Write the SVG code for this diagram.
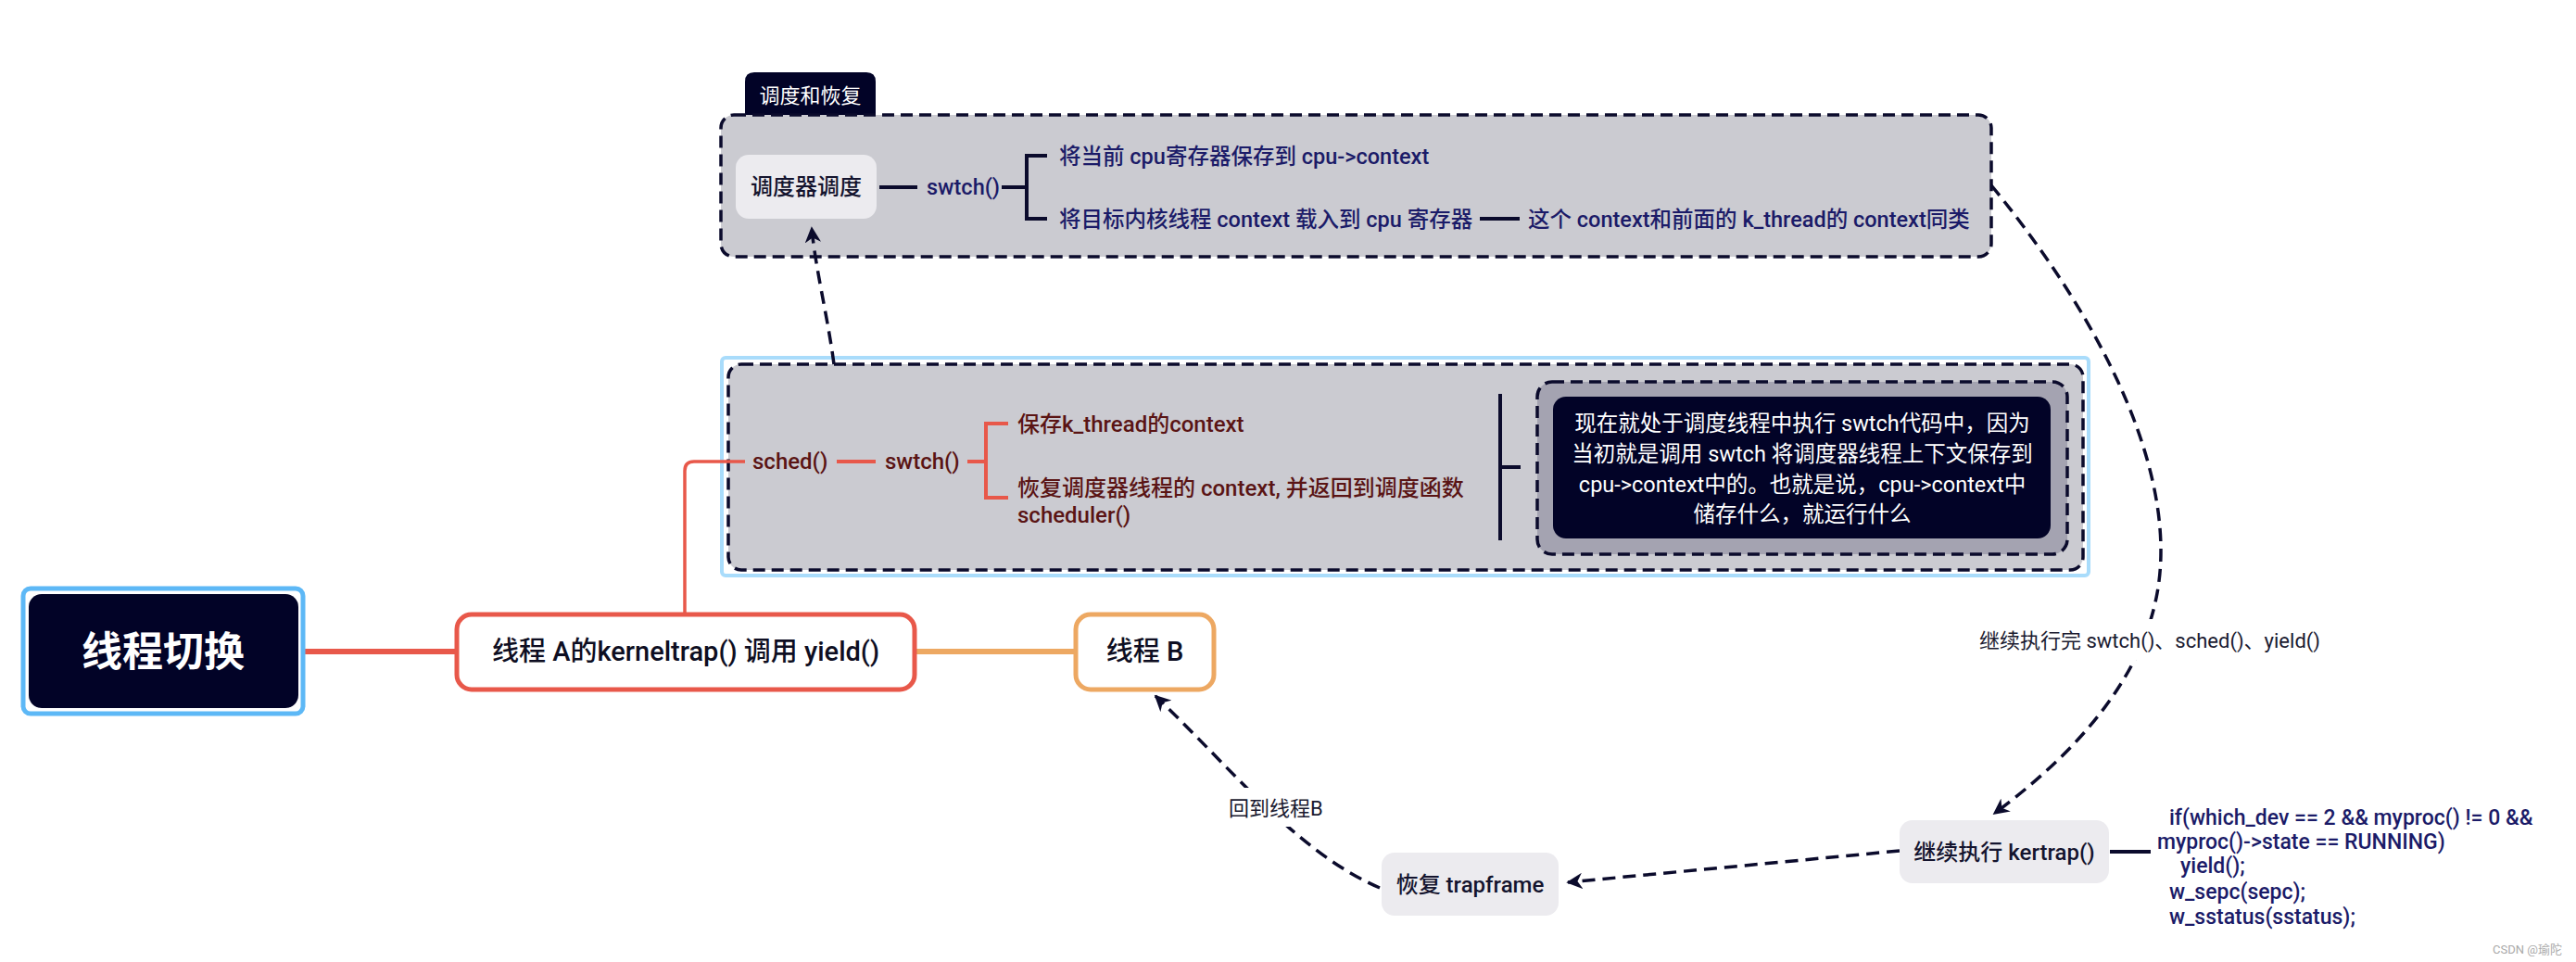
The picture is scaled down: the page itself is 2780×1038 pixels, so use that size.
<svg xmlns="http://www.w3.org/2000/svg" width="2780" height="1038" viewBox="0 0 2780 1038">
<style>
text{font-family:Roboto,"Noto Sans CJK SC",sans-serif}
.dash{stroke:#0b0b2c;stroke-width:3.5;stroke-dasharray:13 7}
.gfill{fill:#cbcbd1}
.nfill{fill:#a4a3b1}
.conn{fill:none;stroke:#0b0b2c;stroke-width:3.5;stroke-dasharray:14 8}
.navy{fill:#1b1b68;font-size:23.5px;font-weight:500}
.nline{fill:none;stroke:#0b0b2c;stroke-width:4}
.red{fill:#5a1414;font-size:24px;font-weight:500}
.rline{fill:none;stroke:#e8584a;stroke-width:4}
.light{fill:#ecebef}
.ntext{fill:#14142e;font-size:24px;font-weight:500}
.mtext{fill:#0e0e22;font-size:29px;font-weight:500}
.note{fill:#ffffff;font-size:23.5px}
.lbl{fill:#1a1a30;font-size:22px}
.code{fill:#1b1b68;font-size:23px;font-weight:500}
</style>
<defs>
<marker id="ah" viewBox="0 0 10 10" refX="9" refY="5" markerWidth="5" markerHeight="5" orient="auto" markerUnits="strokeWidth">
<path d="M0,0 L10,5 L0,10 L3,5 z" fill="#0b0b2c"/>
</marker>
</defs>
<rect width="2780" height="1038" fill="#ffffff"/>

<g id="group-schedule">
<path d="M804,125 V88 Q804,78 814,78 H935 Q945,78 945,88 V125 z" fill="#020327"/>
<text x="874.5" y="111" text-anchor="middle" fill="#ffffff" font-size="22px">调度和恢复</text>
<rect x="778" y="124" width="1371" height="153" rx="14" class="dash gfill"/>
</g>

<g id="node-scheduler">
<rect x="794" y="167" width="152" height="69" rx="14" class="light"/>
<text x="870" y="210" text-anchor="middle" class="ntext" font-weight="600">调度器调度</text>
</g>
<g id="node-swtch1">
<path class="nline" d="M949,202 H990 M1081,202 H1108 M1130,168 H1108 V236 H1130 M1597,236 H1640"/>
<text x="1000" y="210" class="navy">swtch()</text>
<text x="1143" y="177" class="navy">将当前 cpu寄存器保存到 cpu-&gt;context</text>
<text x="1143" y="245" class="navy">将目标内核线程 context 载入到 cpu 寄存器</text>
<text x="1649" y="245" class="navy">这个 context和前面的 k_thread的 context同类</text>
</g>

<g id="group-sched">
<rect x="779" y="386" width="1475" height="235" rx="4" fill="none" stroke="#a9dcfb" stroke-width="4"/>
<rect x="786" y="393" width="1462" height="222" rx="14" class="dash gfill"/>
</g>
<g id="node-sched">
<path class="rline" d="M903,498 H945 M1044,498 H1064 M1088,457 H1064 V537 H1088"/>
<text x="812" y="506" class="red">sched()</text>
<text x="955" y="506" class="red">swtch()</text>
<text x="1098" y="466" class="red">保存k_thread的context</text>
<text x="1098" y="535" class="red">恢复调度器线程的 context, 并返回到调度函数</text>
<text x="1098" y="564" class="red">scheduler()</text>
</g>
<g id="node-note">
<path class="nline" d="M1619,425 V583 M1619,504 H1641"/>
<rect x="1659" y="412" width="572" height="186" rx="16" class="dash nfill"/>
<rect x="1676" y="428" width="537" height="153" rx="14" fill="#020327"/>
<text x="1945" y="465" text-anchor="middle" class="note"> 现在就处于调度线程中执行 swtch代码中，因为</text>
<text x="1945" y="498" text-anchor="middle" class="note">当初就是调用 swtch 将调度器线程上下文保存到</text>
<text x="1945" y="531" text-anchor="middle" class="note">cpu-&gt;context中的。也就是说，cpu-&gt;context中</text>
<text x="1945" y="563" text-anchor="middle" class="note">储存什么，就运行什么</text>
</g>

<g id="connectors">
<path d="M327,703 H493" fill="none" stroke="#e8584a" stroke-width="6"/>
<path d="M989,703 H1160" fill="none" stroke="#eda862" stroke-width="6"/>
<path d="M739,661 V508 Q739,498 749,498 H804" fill="none" stroke="#e8584a" stroke-width="3.5"/>
<path class="conn" d="M900,393 C893,340 880,290 876,246" marker-end="url(#ah)"/>
<path class="conn" d="M2149,200 C2280,360 2350,520 2328,640 C2310,740 2230,820 2152,878" marker-end="url(#ah)"/>
<path class="conn" d="M2050,918 L1692,952" marker-end="url(#ah)"/>
<path class="conn" d="M1489,958 C1400,920 1330,830 1247,751" marker-end="url(#ah)"/>
<path class="nline" d="M2277,919 H2321"/>
<rect x="2128" y="668" width="380" height="44" fill="#ffffff"/>
<text x="2136" y="699" class="lbl" font-size="23px">继续执行完 swtch()、sched()、yield()</text>
<rect x="1318" y="850" width="114" height="42" fill="#ffffff"/>
<text x="1326" y="880" class="lbl" font-size="21px">回到线程B</text>
</g>

<g id="node-root">
<rect x="25" y="635" width="302" height="135" rx="8" fill="none" stroke="#5db8f6" stroke-width="5"/>
<rect x="31" y="641" width="291" height="123" rx="14" fill="#020327"/>
<text x="176" y="719" text-anchor="middle" fill="#ffffff" font-size="44px" font-weight="700">线程切换</text>
</g>
<g id="node-threadA">
<rect x="493" y="663" width="494" height="81" rx="16" fill="#ffffff" stroke="#e8584a" stroke-width="5"/>
<text x="740" y="713" text-anchor="middle" class="mtext">线程 A的kerneltrap() 调用 yield()</text>
</g>
<g id="node-threadB">
<rect x="1161" y="663" width="149" height="81" rx="16" fill="#ffffff" stroke="#eda862" stroke-width="5"/>
<text x="1235.5" y="713" text-anchor="middle" class="mtext">线程 B</text>
</g>
<g id="node-kertrap">
<rect x="2050" y="885" width="226" height="68" rx="14" class="light"/>
<text x="2163" y="928" text-anchor="middle" class="ntext">继续执行 kertrap()</text>
</g>
<g id="node-code">
<text x="2341" y="890" class="code">if(which_dev == 2 &amp;&amp; myproc() != 0 &amp;&amp;</text>
<text x="2328" y="916" class="code">myproc()-&gt;state == RUNNING)</text>
<text x="2353" y="942" class="code">yield();</text>
<text x="2341" y="970" class="code">w_sepc(sepc);</text>
<text x="2341" y="997" class="code">w_sstatus(sstatus);</text>
</g>
<g id="node-trapframe">
<rect x="1491" y="920" width="191" height="68" rx="14" class="light"/>
<text x="1586.5" y="963" text-anchor="middle" class="ntext">恢复 trapframe</text>
</g>
<text x="2765" y="1029" text-anchor="end" fill="#aaaaaa" font-size="13px">CSDN @瑜陀</text>
</svg>
